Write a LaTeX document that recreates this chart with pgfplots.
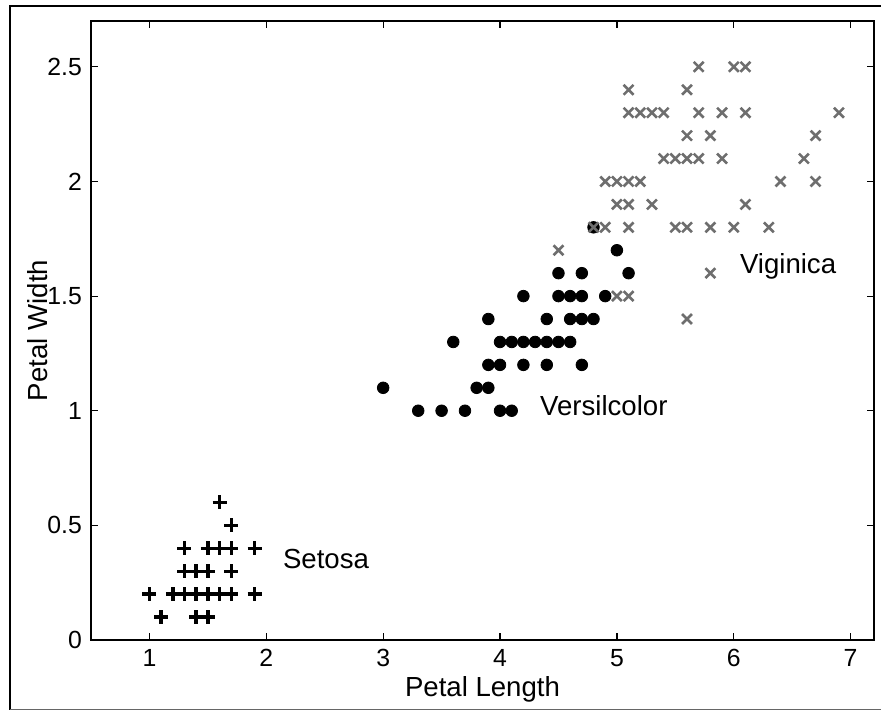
\documentclass[border=0pt]{standalone}
\usepackage{fontspec}
\setmainfont{Liberation Sans}
\usepackage{pgfplots}
\pgfplotsset{compat=1.18}
\definecolor{virg}{RGB}{110,110,110}
\begin{document}
\begin{tikzpicture}
\useasboundingbox (-45.5pt,-35pt) rectangle (395pt,320pt);
\draw[line width=1pt] (400pt,317pt) -- (-40.5pt,317pt) -- (-40.5pt,-40pt);
\draw[line width=0.6pt, black!60] (-40.5pt,-34.6pt) -- (400pt,-34.6pt);
\begin{axis}[
  scale only axis,
  width=391.5pt, height=309.5pt,
  xmin=0.5, xmax=7.2, ymin=0, ymax=2.7,
  xtick={1,2,3,4,5,6,7},
  ytick={0,0.5,1,1.5,2,2.5},
  tick align=inside,
  major tick length=3.5pt,
  axis line style={line width=0.8pt},
  every tick/.style={black, line width=0.6pt},
  /pgf/number format/assume math mode=true,
  tick label style={font=\fontsize{12.4}{14}\selectfont},
  xticklabel style={yshift=-1pt},
  yticklabel style={xshift=-1pt},
  xlabel={Petal Length},
  ylabel={Petal Width},
  label style={font=\fontsize{13.8}{16}\selectfont},
  xlabel style={at={(rel axis cs:0.5,0)}, anchor=base, yshift=-28.4pt},
  ylabel style={at={(rel axis cs:0,0.5)}, anchor=base, yshift=22pt},
  clip=false,
]
% Setosa
\addplot[only marks, mark=+, mark size=3.5pt, line width=1.7pt, black] coordinates {
(1.6,0.6) (1.7,0.5)
(1.3,0.4) (1.5,0.4) (1.6,0.4) (1.7,0.4) (1.9,0.4)
(1.3,0.3) (1.4,0.3) (1.5,0.3) (1.7,0.3)
(1.0,0.2) (1.2,0.2) (1.3,0.2) (1.4,0.2) (1.5,0.2) (1.6,0.2) (1.7,0.2) (1.9,0.2)
(1.1,0.1) (1.4,0.1) (1.5,0.1)
};
% Versicolor
\addplot[only marks, mark=*, mark size=2.9pt, black, mark options={fill=black, draw=black}] coordinates {
(5.0,1.7) (4.8,1.8)
(4.5,1.6) (4.7,1.6) (5.1,1.6)
(4.2,1.5) (4.5,1.5) (4.6,1.5) (4.7,1.5) (4.9,1.5)
(3.9,1.4) (4.4,1.4) (4.6,1.4) (4.7,1.4) (4.8,1.4)
(3.6,1.3) (4.0,1.3) (4.1,1.3) (4.2,1.3) (4.3,1.3) (4.4,1.3) (4.5,1.3) (4.6,1.3)
(3.9,1.2) (4.0,1.2) (4.2,1.2) (4.4,1.2) (4.7,1.2)
(3.0,1.1) (3.8,1.1) (3.9,1.1)
(3.3,1.0) (3.5,1.0) (3.7,1.0) (4.0,1.0) (4.1,1.0)
};
% Virginica
\addplot[only marks, mark=x, mark size=3.5pt, line width=1.3pt, virg] coordinates {
(5.7,2.5) (6.0,2.5) (6.1,2.5)
(5.1,2.4) (5.6,2.4)
(5.1,2.3) (5.2,2.3) (5.3,2.3) (5.4,2.3) (5.7,2.3) (5.9,2.3) (6.1,2.3) (6.9,2.3)
(5.6,2.2) (5.8,2.2) (6.7,2.2)
(5.4,2.1) (5.5,2.1) (5.6,2.1) (5.7,2.1) (5.9,2.1) (6.6,2.1)
(4.9,2.0) (5.0,2.0) (5.1,2.0) (5.2,2.0) (6.4,2.0) (6.7,2.0)
(5.0,1.9) (5.1,1.9) (5.3,1.9) (6.1,1.9)
(4.8,1.8) (4.9,1.8) (5.1,1.8) (5.5,1.8) (5.6,1.8) (5.8,1.8) (6.0,1.8) (6.3,1.8)
(4.5,1.7) (5.8,1.6) (5.0,1.5) (5.1,1.5) (5.6,1.4)
};
\node[anchor=base west, inner sep=0pt, font=\fontsize{13.8}{16}\selectfont] at (axis cs:2.14,0.314) {Setosa};
\node[anchor=base west, inner sep=0pt, font=\fontsize{13.8}{16}\selectfont] at (axis cs:4.34,0.98) {Versilcolor};
\node[anchor=base west, inner sep=0pt, font=\fontsize{13.8}{16}\selectfont] at (axis cs:6.05,1.6) {Viginica};
\end{axis}
\end{tikzpicture}
\end{document}
